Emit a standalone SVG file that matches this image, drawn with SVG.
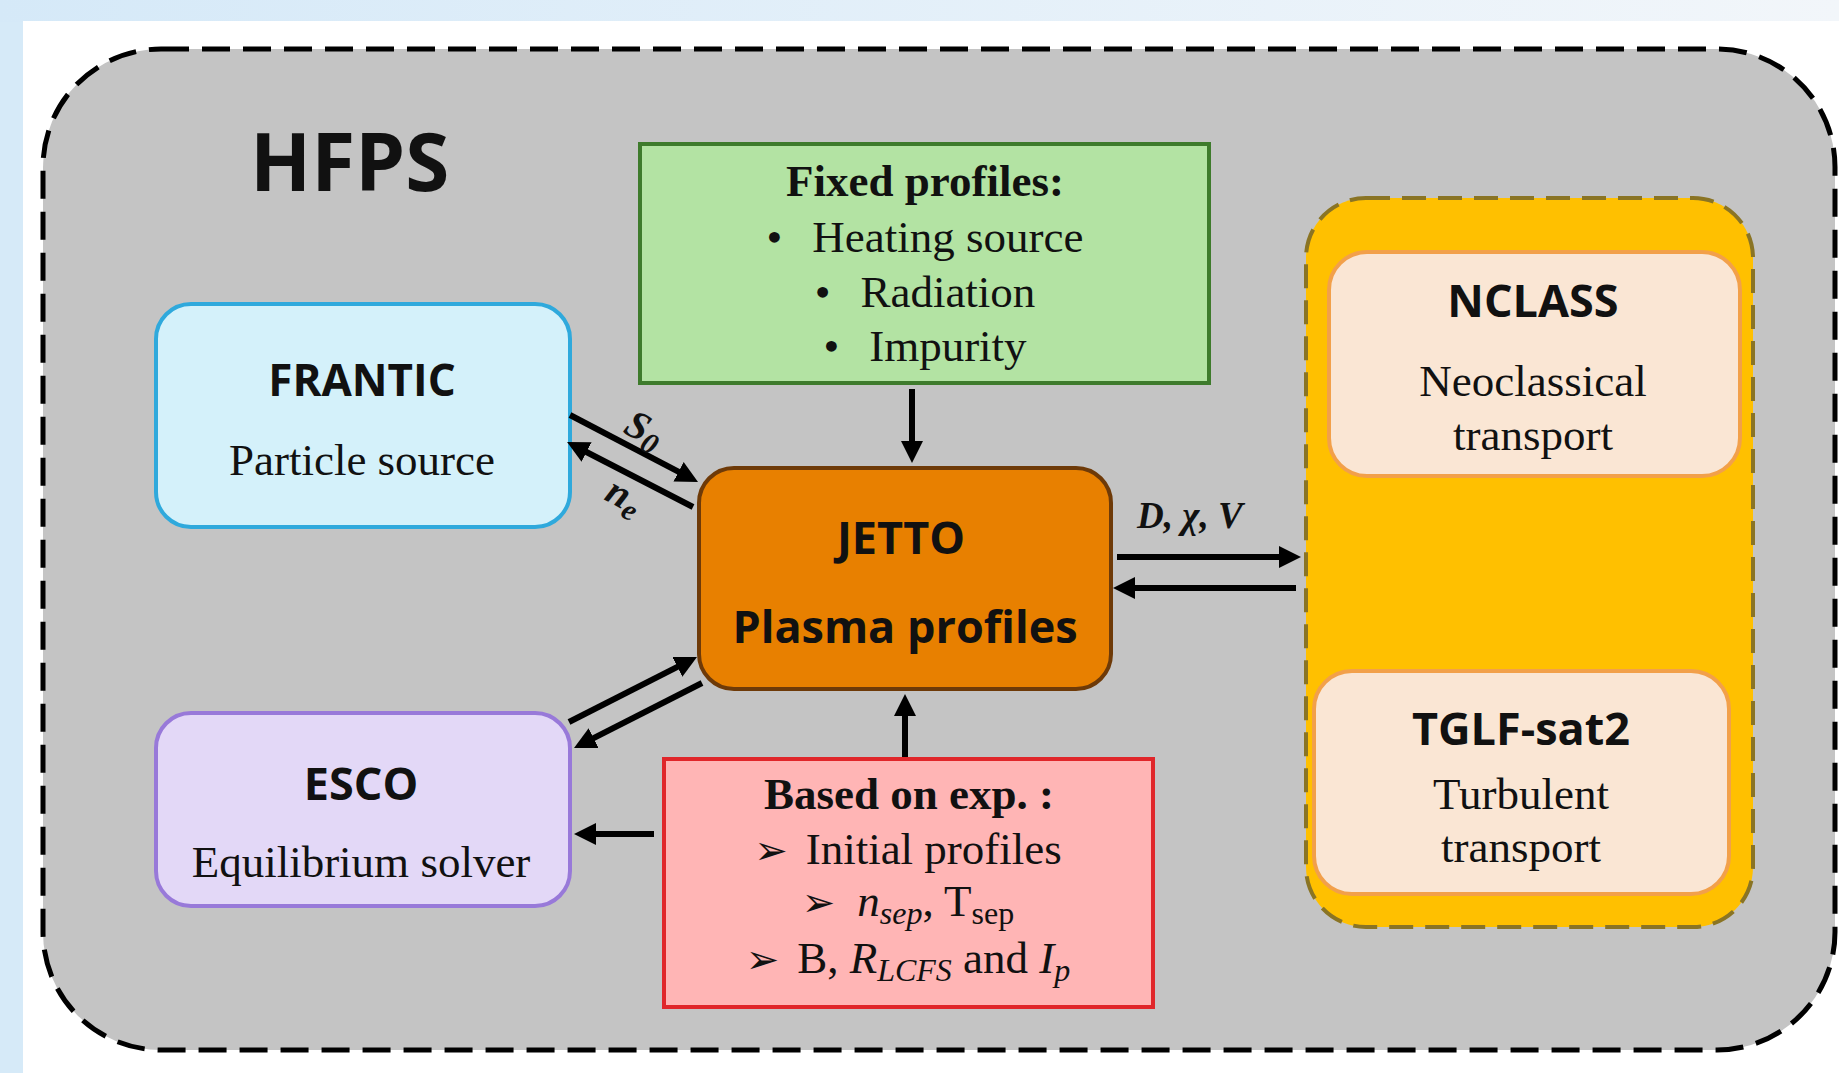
<svg xmlns="http://www.w3.org/2000/svg" width="1839" height="1073" viewBox="0 0 1839 1073">
<defs>
<linearGradient id="topg" x1="0" y1="0" x2="1" y2="0">
<stop offset="0" stop-color="#d5e9f8"/>
<stop offset="1" stop-color="#f2f6fa"/>
</linearGradient>
<marker id="ah" viewBox="0 0 10 10" refX="4.55" refY="5" markerWidth="22" markerHeight="22" markerUnits="userSpaceOnUse" orient="auto">
<path d="M0,0 L10,5 L0,10 z" fill="#000"/>
</marker>
<style>
.sb{font-family:"Open Sans","Noto Sans",sans-serif;font-weight:bold;fill:#111;text-anchor:middle}
.se{font-family:"Liberation Serif","Times New Roman",serif;fill:#111;text-anchor:middle;font-size:45px}
.seb{font-family:"Liberation Serif","Times New Roman",serif;fill:#111;text-anchor:middle;font-size:45px;font-weight:bold}
.math{font-family:"Liberation Serif","Times New Roman",serif;font-style:italic;font-weight:bold;fill:#111}
.arr{stroke:#000;stroke-width:6;fill:none;marker-end:url(#ah)}
.bul{font-family:"DejaVu Sans",sans-serif;font-size:40px}
</style>
</defs>
<rect x="0" y="0" width="1839" height="1073" fill="#d6eaf8"/>
<rect x="0" y="0" width="1839" height="22" fill="url(#topg)"/>
<rect x="23" y="21" width="1816" height="1052" fill="#ffffff"/>

<g id="hfps">
<rect x="43" y="49" width="1792" height="1001" rx="118" ry="118" fill="#c4c4c4" stroke="#000" stroke-width="5" stroke-dasharray="28 13"/>
<text x="250" y="191" font-family="Open Sans, Noto Sans, sans-serif" font-weight="bold" font-size="80" fill="#111">HFPS</text>
</g>

<g id="fixed">
<rect x="640" y="144" width="569" height="239" fill="#b3e3a3" stroke="#3e7b2c" stroke-width="4"/>
<text class="seb" x="925" y="196">Fixed profiles:</text>
<text class="se" x="925" y="252">•<tspan dx="30">Heating source</tspan></text>
<text class="se" x="925" y="307">•<tspan dx="30">Radiation</tspan></text>
<text class="se" x="925" y="361">•<tspan dx="30">Impurity</tspan></text>
</g>

<g id="frantic">
<rect x="156" y="304" width="414" height="223" rx="35" fill="#d4f1fa" stroke="#2fa9dc" stroke-width="4"/>
<text class="sb" x="362" y="396" font-size="44">FRANTIC</text>
<text class="se" x="362" y="475">Particle source</text>
</g>

<g id="jetto">
<rect x="699" y="468" width="412" height="221" rx="35" fill="#e88000" stroke="#6e3a08" stroke-width="4"/>
<text class="sb" x="901" y="554" font-size="45">JETTO</text>
<text class="sb" x="905" y="643" font-size="45">Plasma profiles</text>
</g>

<g id="transport">
<rect x="1306" y="198" width="447" height="729" rx="60" fill="#ffc000" stroke="#8a7424" stroke-width="4" stroke-dasharray="24 12"/>
</g>

<g id="nclass">
<rect x="1329" y="252" width="411" height="224" rx="38" fill="#fae6d4" stroke="#f2a04a" stroke-width="4"/>
<text class="sb" x="1533" y="317" font-size="45">NCLASS</text>
<text class="se" x="1533" y="396">Neoclassical</text>
<text class="se" x="1533" y="450">transport</text>
</g>

<g id="tglf">
<rect x="1314" y="671" width="415" height="223" rx="38" fill="#fae6d4" stroke="#f2a04a" stroke-width="4"/>
<text class="sb" x="1521" y="745" font-size="45">TGLF-sat2</text>
<text class="se" x="1521" y="809">Turbulent</text>
<text class="se" x="1521" y="862">transport</text>
</g>

<g id="esco">
<rect x="156" y="713" width="414" height="193" rx="35" fill="#e3d8f7" stroke="#9879d9" stroke-width="4"/>
<text class="sb" x="361" y="800" font-size="45">ESCO</text>
<text class="se" x="361" y="877">Equilibrium solver</text>
</g>

<g id="based">
<rect x="664" y="759" width="489" height="248" fill="#ffb5b5" stroke="#e0262a" stroke-width="4"/>
<text class="seb" x="909" y="809">Based on exp. :</text>
<text class="se" x="908" y="864"><tspan class="bul">➢</tspan><tspan dx="18">Initial profiles</tspan></text>
<text class="se" x="908" y="916"><tspan class="bul">➢</tspan><tspan dx="22" font-style="italic">n</tspan><tspan font-style="italic" font-size="32" dy="8">sep</tspan><tspan dy="-8">, T</tspan><tspan font-size="32" dy="8">sep</tspan></text>
<text class="se" x="908" y="973"><tspan class="bul">➢</tspan><tspan dx="18">B, </tspan><tspan font-style="italic">R</tspan><tspan font-style="italic" font-size="32" dy="8">LCFS</tspan><tspan dy="-8"> and </tspan><tspan font-style="italic">I</tspan><tspan font-style="italic" font-size="32" dy="8">p</tspan></text>
</g>

<g id="connectors">
<line class="arr" x1="570" y1="415" x2="687.4" y2="476.4"/>
<line class="arr" x1="693" y1="507" x2="577.7" y2="447.5"/>
<line class="arr" x1="569" y1="722" x2="686.3" y2="662.4"/>
<line class="arr" x1="702" y1="683" x2="584.7" y2="742.6"/>
<line class="arr" x1="912" y1="389" x2="912" y2="451"/>
<line class="arr" x1="905" y1="757" x2="905" y2="706"/>
<line class="arr" x1="654" y1="834" x2="586" y2="834"/>
<line class="arr" x1="1117" y1="557" x2="1289" y2="557"/>
<line class="arr" x1="1296" y1="588" x2="1125" y2="588"/>
<text class="math" font-size="40" transform="translate(622,432) rotate(28)">S<tspan font-size="30" dy="7">0</tspan></text>
<text class="math" font-size="40" transform="translate(603,499) rotate(28)">n<tspan font-size="30" dy="7">e</tspan></text>
<text class="math" font-size="37" x="1137" y="528">D, χ, V</text>
</g>
</svg>
